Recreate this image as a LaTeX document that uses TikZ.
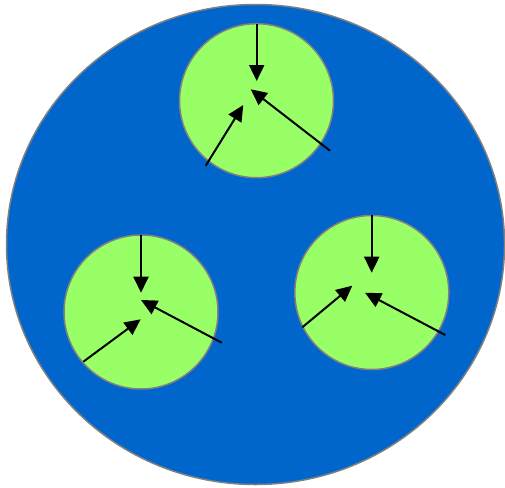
\documentclass[tikz,border=0pt]{standalone}
\usetikzlibrary{arrows.meta,shapes.geometric}
\definecolor{bigblue}{HTML}{0066CC}
\definecolor{cellgreen}{HTML}{99FF66}
\definecolor{rimgray}{HTML}{808080}
\begin{document}
\begin{tikzpicture}[x=1pt,y=-1pt,
  bigcell/.style={ellipse,draw=rimgray,line width=1.5pt,fill=bigblue,minimum width=498pt,minimum height=480pt,inner sep=0pt},
  smallcell/.style={circle,draw=rimgray,line width=1.5pt,fill=cellgreen,minimum size=154pt,inner sep=0pt},
  flow/.style={line width=2pt,-{Triangle[length=16pt,width=15pt]}}]
\useasboundingbox (0,0) rectangle (505,487);
\node[bigcell] (outer) at (255.5,244.5) {};
\node[smallcell] (top) at (256.5,100.7) {};
\node[smallcell] (left) at (141,312) {};
\node[smallcell] (right) at (371.8,292.5) {};
% top cell
\coordinate (t1s) at (256.7,24);   \coordinate (t1e) at (256.7,81);
\coordinate (t2s) at (205.7,165.7);\coordinate (t2e) at (243.3,105);
\coordinate (t3s) at (330,150.7);  \coordinate (t3e) at (250.7,89.3);
\draw[flow] (t1s) -- (t1e);
\draw[flow] (t2s) -- (t2e);
\draw[flow] (t3s) -- (t3e);
% left cell
\coordinate (l1s) at (141,235);    \coordinate (l1e) at (141,292.7);
\coordinate (l2s) at (83.3,361.7); \coordinate (l2e) at (140.7,319.3);
\coordinate (l3s) at (221.7,342.7);\coordinate (l3e) at (141,300);
\draw[flow] (l1s) -- (l1e);
\draw[flow] (l2s) -- (l2e);
\draw[flow] (l3s) -- (l3e);
% right cell
\coordinate (r1s) at (371.7,215.3);\coordinate (r1e) at (371.7,272.7);
\coordinate (r2s) at (302.3,327.3);\coordinate (r2e) at (352.3,285.7);
\coordinate (r3s) at (445.3,335);  \coordinate (r3e) at (365,292.7);
\draw[flow] (r1s) -- (r1e);
\draw[flow] (r2s) -- (r2e);
\draw[flow] (r3s) -- (r3e);
\end{tikzpicture}
\end{document}
